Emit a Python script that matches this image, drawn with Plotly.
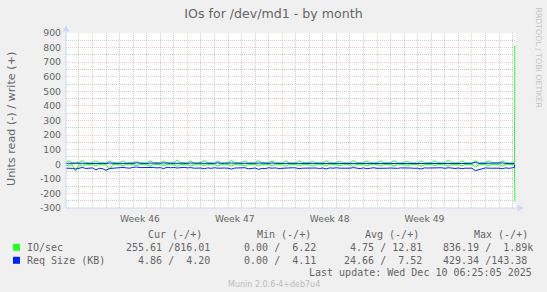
import numpy as np
import pandas as pd
import plotly.graph_objects as go

# ---------------- data ----------------
# samples every 6 h from 2025-11-07 00:00 (33 days x 4), then the last few samples
sample_start = "2025-11-07 00:00"
tail_times = ["2025-12-10 00:00", "2025-12-10 03:30", "2025-12-10 04:00"]

# IO/sec write (+)
io_write = [
    10, 24, 9, 12,   11, 26, 10, 9,   12, 22, 11, 10,  9, 20, 12, 10,
    10, 23, 9, 11,   11, 19, 10, 9,   10, 24, 11, 10,  9, 21, 10, 12,
    11, 27, 12, 10,  10, 22, 9, 11,   12, 25, 10, 10,  9, 20, 11, 9,
    10, 26, 12, 11,  11, 22, 10, 10,  10, 24, 9, 12,   12, 21, 11, 10,
    9, 23, 10, 9,    10, 25, 12, 11,  11, 20, 10, 10,  10, 24, 11, 9,
    12, 22, 9, 10,   9, 26, 10, 11,   11, 21, 12, 10,  10, 23, 10, 12,
    10, 25, 11, 9,   12, 20, 9, 10,   9, 24, 10, 11,   11, 22, 12, 10,
    10, 27, 11, 9,   12, 21, 10, 11,  9, 24, 9, 10,    11, 23, 12, 10,
    10, 22, 11, 9,
    10, 11, 816.01,
]
# IO/sec read (-), magnitudes
io_read = [
    3, 12, 2, 48,    2, 14, 3, 2,     3, 11, 2, 3,     2, 35, 3, 2,
    3, 12, 2, 3,     2, 10, 3, 2,     3, 13, 2, 2,     2, 11, 3, 3,
    3, 15, 2, 2,     2, 12, 3, 3,     3, 10, 2, 2,     2, 14, 3, 2,
    3, 11, 2, 3,     2, 13, 2, 2,     3, 12, 3, 2,     2, 10, 2, 3,
    3, 14, 3, 2,     2, 11, 2, 2,     3, 13, 3, 3,     2, 12, 2, 2,
    3, 10, 3, 2,     2, 15, 2, 3,     3, 11, 3, 2,     2, 13, 2, 2,
    3, 12, 3, 3,     2, 10, 2, 2,     3, 14, 3, 2,     2, 11, 2, 3,
    3, 13, 3, 2,     2, 12, 2, 2,     3, 18, 3, 3,     2, 11, 2, 2,
    3, 13, 3, 2,
    2, 3, 255.61,
]
# Req Size (KB) write (+)
rs_write = [
    6, 8, 5, 7,   7, 9, 6, 5,   6, 8, 7, 6,   5, 9, 6, 7,
    7, 8, 5, 6,   6, 10, 7, 5,  5, 8, 6, 7,   7, 9, 6, 6,
    6, 8, 5, 7,   5, 9, 7, 6,   7, 8, 6, 5,   6, 10, 5, 7,
    5, 8, 7, 6,   7, 9, 6, 5,   6, 8, 5, 7,   5, 9, 6, 6,
    7, 8, 7, 5,   6, 10, 5, 7,  5, 8, 6, 6,   7, 9, 7, 5,
    6, 8, 5, 7,   5, 9, 6, 6,   7, 8, 7, 5,   6, 10, 5, 7,
    5, 8, 6, 6,   7, 9, 7, 5,   6, 8, 5, 7,   5, 9, 6, 6,
    7, 8, 7, 5,   6, 10, 5, 7,  5, 14, 6, 6,  7, 8, 7, 5,
    6, 9, 5, 6,
    5, 5, 4.20,
]
# Req Size (KB) read (-), magnitudes
rs_read = [
    27, 25, 28, 33,  26, 22, 29, 27,  25, 38, 28, 30,  42, 29, 26, 28,
    24, 22, 25, 27,  21, 19, 23, 22,  24, 20, 22, 25,  23, 30, 21, 24,
    22, 26, 24, 21,  25, 23, 27, 24,  26, 31, 25, 28,  24, 27, 29, 26,
    27, 33, 26, 25,  29, 24, 31, 27,  26, 35, 28, 30,  24, 27, 25, 29,
    27, 23, 26, 24,  25, 30, 27, 26,  28, 24, 26, 29,  26, 32, 25, 27,
    24, 27, 28, 25,  27, 23, 26, 30,  25, 31, 27, 24,  28, 26, 24, 27,
    26, 29, 28, 25,  24, 27, 26, 28,  27, 33, 25, 26,  25, 28, 27, 24,
    28, 24, 26, 29,  26, 30, 27, 25,  27, 44, 36, 28,  25, 27, 26, 29,
    27, 30, 25, 28,
    26, 22, 4.86,
]

x_range = ["2025-11-07 01:00", "2025-12-10 06:05"]
week_starts = ["2025-11-09", "2025-11-16", "2025-11-23", "2025-11-30", "2025-12-07"]
week_mid = ["2025-11-12 12:00", "2025-11-19 12:00", "2025-11-26 12:00", "2025-12-03 12:00"]
week_labels = ["Week 46", "Week 47", "Week 48", "Week 49"]
y_ticks = [-300, -200, -100, 0, 100, 200, 300, 400, 500, 600, 700, 800, 900]
y_labels = ["-300", "-200", "-100", "0", "100", "200", "300", "400", "500", "600", "700", "800", "900"]

legend_names = ["IO/sec", "Req Size (KB)"]
legend_colors = ["#22ff22", "#0022ff"]
col_headers = ["Cur (-/+)", "Min (-/+)", "Avg (-/+)", "Max (-/+)"]
stats_io = ["255.61 /816.01", "  0.00 /  6.22", "  4.75 / 12.81", "836.19 /  1.89k"]
stats_rs = ["  4.86 /  4.20", "  0.00 /  4.11", " 24.66 /  7.52", "429.34 /143.38"]
last_update = "Last update: Wed Dec 10 06:25:05 2025"
footer = "Munin 2.0.6-4+deb7u4"
title = "IOs for /dev/md1 - by month"
y_title = "Units read (-) / write (+)"
watermark = "RRDTOOL / TOBI OETIKER"

# ---------------- build ----------------
times = list(pd.date_range(sample_start, periods=132, freq="6h")) + [pd.Timestamp(t) for t in tail_times]
assert len(io_write) == len(times) == len(io_read) == len(rs_write) == len(rs_read)

W, H = 547, 292
L, R, T, B = 66, 516, 33, 208
def px(x):
    return (x - L) / (R - L)
def py(y):
    return (B - y) / (B - T)

FONT = "DejaVu Sans"
MONO = "DejaVu Sans Mono"
TXT = "#666666"
MGRID = "rgba(255,40,40,0.26)"
GRID = "rgba(128,128,128,0.40)"
AXIS = "#cfd6f8"

fig = go.Figure()
fig.add_trace(go.Scatter(x=times, y=-np.array(io_read), mode="lines",
                         line=dict(color=legend_colors[0], width=1), hoverinfo="skip"))
fig.add_trace(go.Scatter(x=times, y=io_write, mode="lines",
                         line=dict(color=legend_colors[0], width=1), hoverinfo="skip"))
fig.add_trace(go.Scatter(x=times, y=-np.array(rs_read), mode="lines", xaxis="x2",
                         line=dict(color=legend_colors[1], width=1), hoverinfo="skip"))
fig.add_trace(go.Scatter(x=times, y=rs_write, mode="lines", xaxis="x2",
                         line=dict(color=legend_colors[1], width=1), hoverinfo="skip"))

minor_days = [d for d in pd.date_range("2025-11-07", "2025-12-11", freq="D") if d.dayofweek != 6]
minor_y = [v for v in np.arange(-250, 900, 100)]

fig.update_layout(
    width=W, height=H, autosize=False,
    margin=dict(l=L, r=W - R, t=T, b=H - B, pad=0),
    paper_bgcolor="#f0f0f0", plot_bgcolor="#ffffff",
    showlegend=False,
    title=dict(text=title, x=0.5, xref="container", xanchor="center",
               y=1 - 14 / H, yref="container", yanchor="middle",
               font=dict(family=FONT, size=12.6, color=TXT)),
    xaxis=dict(type="date", range=x_range, tickmode="array", tickvals=week_starts,
               showticklabels=False, ticks="", showgrid=True, gridcolor=MGRID,
               griddash="1px,1px", gridwidth=1, zeroline=False, showline=False,
               minor=dict(tickmode="array", tickvals=minor_days, showgrid=True,
                          gridcolor=GRID, griddash="1px,1px", gridwidth=1, ticks="")),
    xaxis2=dict(type="date", range=x_range, overlaying="x", anchor="y", side="bottom",
                tickmode="array", tickvals=week_mid, ticktext=week_labels,
                showgrid=False, ticks="", zeroline=False, showline=False,
                tickfont=dict(family=FONT, size=9.2, color=TXT), ticklabelstandoff=4),
    yaxis=dict(range=[-300, 900], tickmode="array", tickvals=y_ticks, ticktext=y_labels,
               showgrid=True, gridcolor=MGRID, griddash="1px,1px", gridwidth=1,
               zeroline=False, showline=False, ticks="",
               tickfont=dict(family=FONT, size=9.3, color=TXT), ticklabelstandoff=4,
               minor=dict(tickmode="array", tickvals=minor_y, showgrid=True,
                          gridcolor=GRID, griddash="1px,1px", gridwidth=1, ticks="")),
)

shapes = []
# axis lines and arrows
shapes.append(dict(type="line", xref="paper", yref="paper", x0=0, x1=0, y0=0, y1=py(30),
                   line=dict(color=AXIS, width=1), layer="above"))
shapes.append(dict(type="line", xref="paper", yref="paper", x0=0, x1=px(519), y0=0, y1=0,
                   line=dict(color=AXIS, width=1), layer="above"))
shapes.append(dict(type="path", xref="paper", yref="paper",
                   path=f"M {px(66)} {py(25.5)} L {px(62.5)} {py(31.5)} L {px(69.5)} {py(31.5)} Z",
                   fillcolor=AXIS, line=dict(width=0), layer="above"))
shapes.append(dict(type="path", xref="paper", yref="paper",
                   path=f"M {px(523.5)} {py(208)} L {px(517.5)} {py(204.5)} L {px(517.5)} {py(211.5)} Z",
                   fillcolor=AXIS, line=dict(width=0), layer="above"))
# legend swatches
for i, c in enumerate(legend_colors):
    yc = 247.3 + 13 * i
    shapes.append(dict(type="rect", xref="paper", yref="paper",
                       x0=px(13), x1=px(20), y0=py(yc + 3.5), y1=py(yc - 3.5),
                       fillcolor=c, line=dict(width=0), layer="above"))
fig.update_layout(shapes=shapes)

def nb(s):
    return s.replace(" ", "\u00a0")

ann = []
ann.append(dict(text=y_title, x=px(11), y=py(119), xref="paper", yref="paper",
                showarrow=False, textangle=-90, font=dict(family=FONT, size=11.2, color=TXT),
                xanchor="center", yanchor="middle"))
ann.append(dict(text=nb(watermark), x=px(538.5), y=py(58), xref="paper", yref="paper",
                showarrow=False, textangle=90, font=dict(family=FONT, size=7.8, color="#c4c4c4"),
                xanchor="center", yanchor="middle"))
header_left = [147.4, 256, 364, 473]
for h, xl in zip(col_headers, header_left):
    ann.append(dict(text=nb(h), x=px(xl), y=py(234.8), xref="paper", yref="paper",
                    showarrow=False, xanchor="left", yanchor="middle",
                    font=dict(family=MONO, size=10, color=TXT)))
value_left = [125.4, 231, 336.5, 441.8]
for row, (name, stats) in enumerate(zip(legend_names, [stats_io, stats_rs])):
    yc = 247.3 + 13 * row
    ann.append(dict(text=nb(name), x=px(26), y=py(yc), xref="paper", yref="paper",
                    showarrow=False, xanchor="left", yanchor="middle",
                    font=dict(family=MONO, size=10, color=TXT)))
    for s, xl in zip(stats, value_left):
        ann.append(dict(text=nb(s), x=px(xl), y=py(yc), xref="paper", yref="paper",
                        showarrow=False, xanchor="left", yanchor="middle",
                        font=dict(family=MONO, size=10, color=TXT)))
ann.append(dict(text=nb(last_update), x=px(532.5), y=py(272.8), xref="paper", yref="paper",
                showarrow=False, xanchor="right", yanchor="middle",
                font=dict(family=MONO, size=10, color=TXT)))
ann.append(dict(text=footer, x=px(273.5), y=py(284.7), xref="paper", yref="paper",
                showarrow=False, xanchor="center", yanchor="middle",
                font=dict(family=FONT, size=8, color="#bcbcbc")))
for a in ann:
    a["borderpad"] = 0
fig.update_layout(annotations=ann)

fig.write_html("out.html")
